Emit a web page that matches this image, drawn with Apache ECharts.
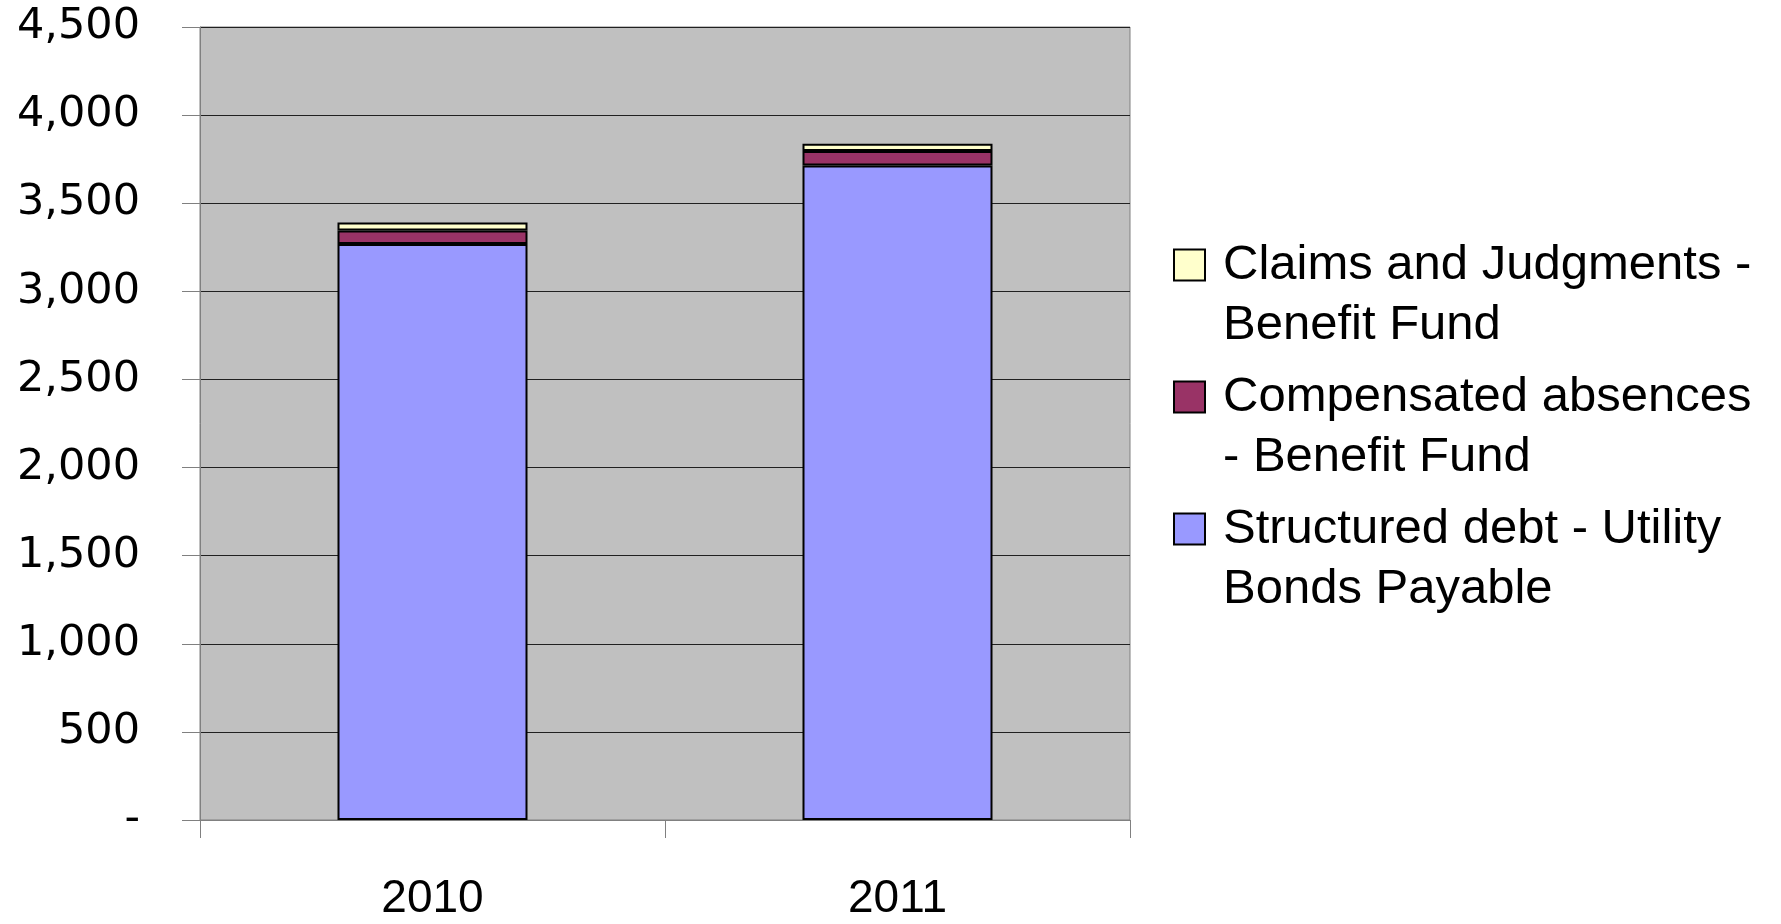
<!DOCTYPE html>
<html>
<head>
<meta charset="utf-8">
<script src="https://cdn.jsdelivr.net/npm/echarts@6/dist/echarts.min.js"></script>
<style>
html,body{margin:0;padding:0;background:#fff;}
#chart{width:1781px;height:924px;}
</style>
</head>
<body>
<div id="chart"></div>
<script>
var categories = ['2010', '2011'];
var structuredDebt = [3268, 3714];
var compensatedAbsences = [77, 82];
var claimsJudgments = [45, 41];
var seriesNames = [
  'Structured debt - Utility Bonds Payable',
  'Compensated absences - Benefit Fund',
  'Claims and Judgments - Benefit Fund'
];
var legendLines = {
  'Claims and Judgments - Benefit Fund': ['Claims and Judgments -', 'Benefit Fund'],
  'Compensated absences - Benefit Fund': ['Compensated absences', '- Benefit Fund'],
  'Structured debt - Utility Bonds Payable': ['Structured debt - Utility', 'Bonds Payable']
};
var colors = ['#9999FF', '#993366', '#FFFFCC'];

var chart = echarts.init(document.getElementById('chart'));
function mk(name, data, color) {
  return {
    name: name, type: 'bar', stack: 'total', data: data,
    barWidth: 190,
    itemStyle: { color: color, borderColor: '#000', borderWidth: 2 }
  };
}
chart.setOption({
  animation: false,
  backgroundColor: '#fff',
  grid: {
    left: 200, right: 651, top: 27, bottom: 104,
    show: true, backgroundColor: '#C0C0C0', borderColor: '#808080', borderWidth: 1
  },
  legend: {
    orient: 'vertical',
    left: 1173, top: 175,
    padding: 0,
    itemWidth: 31, itemHeight: 31,
    itemGap: -48,
    icon: 'rect',
    data: [seriesNames[2], seriesNames[1], seriesNames[0]],
    formatter: function (n) { var l = legendLines[n]; return '\n' + l[0] + '\n' + l[1]; },
    textStyle: {
      fontFamily: 'Liberation Sans', fontSize: 49, lineHeight: 60, color: '#000',
      padding: [0, 0, 0, 13]
    }
  },
  xAxis: {
    type: 'category', data: categories,
    axisLine: { lineStyle: { color: '#808080', width: 1 } },
    axisTick: { show: true, length: 18, alignWithLabel: false, lineStyle: { color: '#808080' } },
    axisLabel: { fontFamily: 'Liberation Sans', fontSize: 46, color: '#000', margin: 56 }
  },
  yAxis: {
    type: 'value', min: 0, max: 4500, interval: 500,
    axisLine: { show: true, lineStyle: { color: '#808080', width: 1 } },
    axisTick: { show: true, length: 18, lineStyle: { color: '#808080' } },
    splitLine: { lineStyle: { color: '#202020', width: 1 } },
    axisLabel: {
      fontFamily: 'DejaVu Sans', fontSize: 43, color: '#000', margin: 60,
      formatter: function (v) { return v === 0 ? '-' : v.toLocaleString('en-US'); }
    }
  },
  series: [
    mk(seriesNames[0], structuredDebt, colors[0]),
    mk(seriesNames[1], compensatedAbsences, colors[1]),
    mk(seriesNames[2], claimsJudgments, colors[2])
  ]
});
</script>
</body>
</html>
